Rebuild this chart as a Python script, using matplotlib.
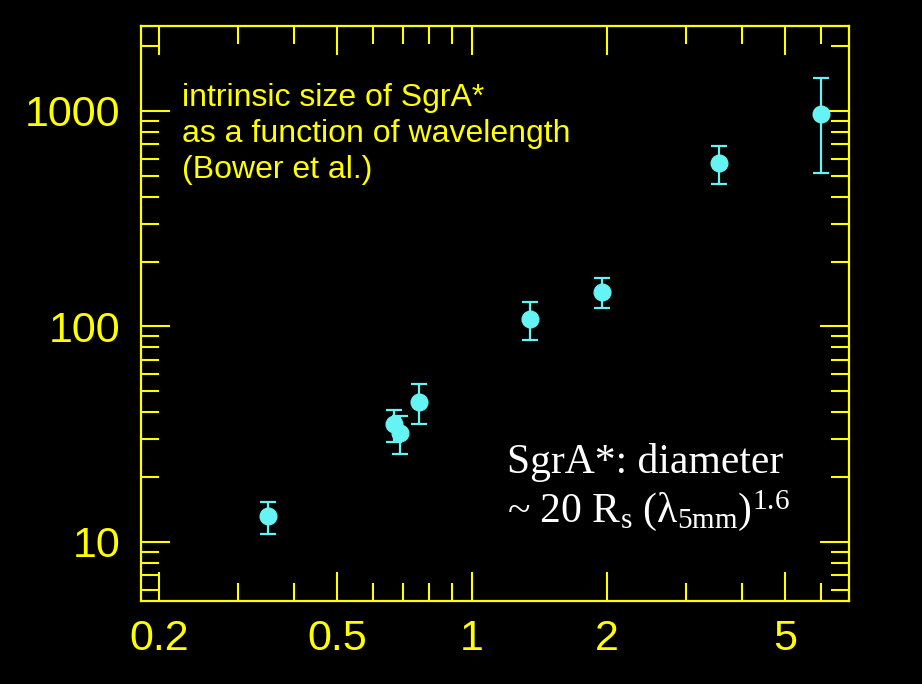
import numpy as np
import matplotlib
matplotlib.use("Agg")
import matplotlib.pyplot as plt
import matplotlib.ticker as ticker

# intrinsic size of SgrA* vs observing wavelength
wavelength = [0.35, 0.67, 0.69, 0.76, 1.35, 1.95, 3.56, 6.02]
size = [13.2, 35.2, 31.9, 44.7, 108, 145, 574, 968]
size_lo = [10.9, 29.1, 25.5, 35.3, 86.8, 122, 460, 514]
size_hi = [15.4, 41.1, 38.5, 53.9, 129.5, 167, 688, 1423]

x_major = [0.2, 0.5, 1, 2, 5]
x_labels = ["0.2", "0.5", "1", "2", "5"]
y_major = [10, 100, 1000]
y_labels = ["10", "100", "1000"]

yellow = "#ffff00"
cyan = "#66f3f3"

plt.rcParams['mathtext.fontset'] = 'custom'
plt.rcParams['mathtext.rm'] = 'Liberation Serif'
plt.rcParams['mathtext.it'] = 'Liberation Serif:italic'

fig = plt.figure(figsize=(9.22, 6.84), dpi=100, facecolor="black")
ax = fig.add_axes([0.1529, 0.1213, 0.7679, 0.8407])
ax.set_facecolor("black")

size = np.array(size)
yerr = [size - np.array(size_lo), np.array(size_hi) - size]
ax.errorbar(wavelength, size, yerr=yerr, fmt="o", color=cyan, ms=12,
            elinewidth=1.6, capsize=5.5, capthick=1.6, zorder=3)

ax.set_xscale("log")
ax.set_yscale("log")
ax.set_xlim(0.1824, 6.94)
ax.set_ylim(5.32, 2477)

ax.set_xticks(x_major)
ax.set_xticklabels(x_labels)
ax.set_yticks(y_major)
ax.set_yticklabels(y_labels)
ax.xaxis.set_minor_locator(ticker.LogLocator(base=10, subs=np.arange(2, 10)))
ax.yaxis.set_minor_locator(ticker.LogLocator(base=10, subs=np.arange(2, 10)))
ax.xaxis.set_minor_formatter(ticker.NullFormatter())
ax.yaxis.set_minor_formatter(ticker.NullFormatter())

for s in ax.spines.values():
    s.set_color(yellow)
    s.set_linewidth(1.6)
ax.tick_params(which="both", direction="in", color=yellow, width=1.5,
               top=True, right=True, labelcolor=yellow, labelsize=31)
ax.tick_params(which="major", length=21)
ax.tick_params(which="minor", length=13)
ax.tick_params(axis="x", pad=13)
ax.tick_params(axis="y", pad=15)
for lab in ax.get_xticklabels() + ax.get_yticklabels():
    lab.set_family("Liberation Sans")

# baseline alignment refers to the last of the three lines
ax.text(0.0579, 0.7357, "intrinsic size of SgrA*\nas a function of wavelength\n(Bower et al.)",
        transform=ax.transAxes, ha="left", va="baseline", color=yellow,
        family="Liberation Sans", fontsize=23, linespacing=1.27)

ax.text(0.517, 0.2226, "SgrA*: diameter", transform=ax.transAxes,
        ha="left", va="baseline", color="white", family="Liberation Serif",
        fontsize=30)
ax.text(0.517, 0.1374, r"~ 20 R$_{\rm s}$ (λ$_{\rm 5mm}$)$^{1.6}$",
        transform=ax.transAxes, ha="left", va="baseline", color="white",
        family="Liberation Serif", fontsize=30)

fig.savefig("out.png", dpi=100, facecolor="black")
